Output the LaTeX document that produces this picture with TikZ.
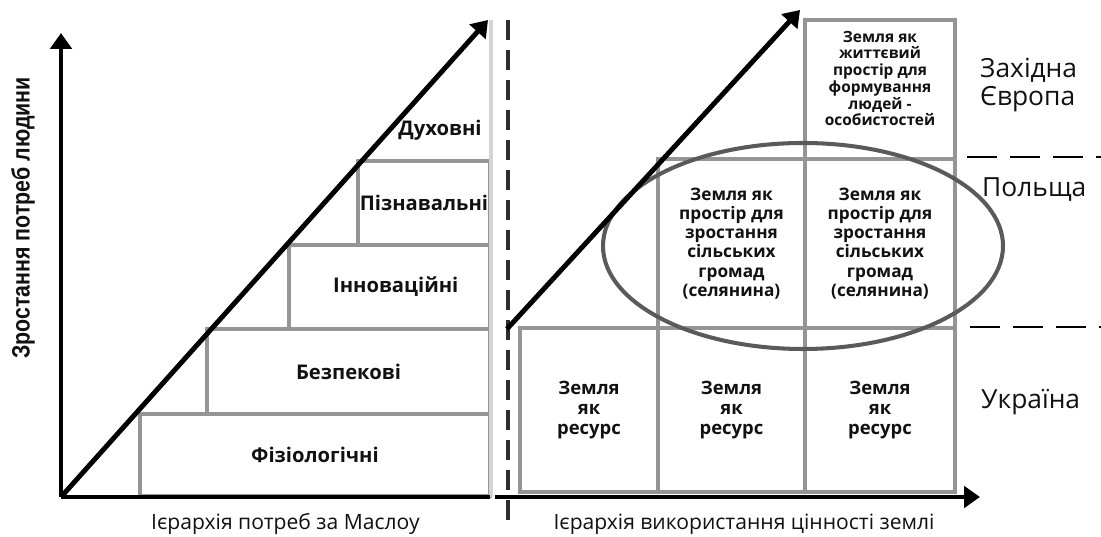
\documentclass[tikz,border=0pt]{standalone}
\usepackage{fontspec}
\setmainfont{Open Sans}
\newfontfamily\narrowfont[FakeStretch=0.85]{Liberation Sans}
\usetikzlibrary{arrows.meta,positioning,calc,shapes.geometric}
\definecolor{Ink}{HTML}{111111}
\definecolor{FrameGray}{HTML}{959595}
\definecolor{EdgeGray}{HTML}{D4D4D4}
\definecolor{RingGray}{HTML}{5A5A5A}
\definecolor{DashInk}{HTML}{2E2E2E}

\begin{document}
\begin{tikzpicture}[
  needbox/.style={draw=FrameGray,line width=2.1pt,inner sep=0pt,text=Ink,font=\bfseries\fontsize{11.5}{13}\selectfont},
  landbox/.style={draw=FrameGray,line width=2.1pt,inner sep=0pt,align=center,text=Ink,font=\bfseries\fontsize{9.8}{10.9}\selectfont},
  axisline/.style={line width=2.8pt,draw=black},
  bigtip/.style={-{Triangle[width=12pt,length=9pt]}},
  country/.style={anchor=west,align=left,text=Ink,font=\fontsize{15}{16.5}\selectfont}
]
  \useasboundingbox (0,0) rectangle (22.02,10.74);

  % left panel: Maslow steps
  \node[needbox,minimum width=7.00cm,minimum height=1.64cm] (phys) at (6.30,1.64) {Фізіологічні};
  \node[needbox,minimum width=5.66cm,minimum height=1.70cm] (safe) at (6.97,3.31) {Безпекові};
  \node[needbox,minimum width=4.02cm,minimum height=1.68cm] (innov) at (7.79,5.00) {\hspace{0.25cm}Інноваційні};
  \node[needbox,minimum width=2.64cm,minimum height=1.68cm] (cogn) at (8.48,6.68) {Пізнавальні};
  \node[text=Ink,font=\bfseries\fontsize{11.5}{13}\selectfont] (spirit) at (8.80,8.14) {Духовні};

  \coordinate (edgetop) at (9.82,10.34);
  \coordinate (edgebot) at (9.82,0.80);
  \draw[EdgeGray,line width=2.6pt] (edgetop) -- (edgebot);

  \coordinate (o1) at (1.22,0.80);
  \coordinate (ytop) at (1.22,10.08);
  \coordinate (x1end) at (9.80,0.80);
  \coordinate (d1top) at (9.76,10.34);
  \draw[axisline,bigtip] (o1) -- (ytop);
  \draw[axisline] (o1) -- (x1end);
  \draw[axisline,bigtip] (o1) -- (d1top);

  \node[rotate=90,text=Ink,font=\narrowfont\bfseries\fontsize{14.3}{16}\selectfont] (ylab) at (0.46,6.38) {Зростання потреб людини};
  \node[anchor=west,text=Ink,font=\fontsize{12}{14}\selectfont] (xlab1) at (2.90,0.26) {Ієрархія потреб за Маслоу};

  % separator
  \coordinate (septop) at (10.16,10.34);
  \coordinate (sepbot) at (10.16,0.34);
  \draw[DashInk,line width=2pt,dash pattern=on 0.40cm off 0.20cm] (septop) -- (sepbot);

  % right panel: land value grid
  \node[landbox,minimum width=3.00cm,minimum height=2.78cm] (west) at (17.60,8.95) {};
  \node[align=center,text=Ink,inner sep=0pt,font=\bfseries\fontsize{8.8}{9.5}\selectfont] (westtext) at (17.60,9.17) {Земля як\\життєвий\\простір для\\формування\\людей -\\особистостей};
  \node[landbox,minimum width=2.94cm,minimum height=3.38cm] (polA) at (14.63,5.87) {Земля як\\простір для\\зростання\\сільських\\громад\\(селянина)};
  \node[landbox,minimum width=3.00cm,minimum height=3.38cm] (polB) at (17.60,5.87) {Земля як\\простір для\\зростання\\сільських\\громад\\(селянина)};
  \foreach \x/\w/\n in {11.78/2.76/A,14.63/2.94/B,17.60/3.00/C}{
    \node[landbox,minimum width=\w cm,minimum height=3.28cm,font=\bfseries\fontsize{10.5}{11.4}\selectfont] (res\n) at (\x,2.54) {Земля\\як\\ресурс};
  }

  \node[draw=RingGray,line width=2.3pt,ellipse,minimum width=8.0cm,minimum height=4.12cm] (ring) at (16.06,5.82) {};

  \coordinate (o2) at (9.90,0.80);
  \coordinate (x2end) at (19.60,0.80);
  \coordinate (d2start) at (10.14,4.16);
  \coordinate (d2top) at (16.00,10.54);
  \draw[axisline,bigtip] (o2) -- (x2end);
  \draw[axisline,bigtip] (d2start) -- (d2top);

  \node[text=Ink,font=\fontsize{12}{14}\selectfont] (xlab2) at (14.88,0.26) {Ієрархія використання цінності землі};

  % countries
  \coordinate (cut1a) at (19.34,7.60);
  \coordinate (cut1b) at (22.02,7.60);
  \coordinate (cut2a) at (19.40,4.20);
  \coordinate (cut2b) at (22.02,4.20);
  \draw[black,line width=1.6pt,dash pattern=on 0.60cm off 0.26cm] (cut1a) -- (cut1b);
  \draw[black,line width=1.6pt,dash pattern=on 0.60cm off 0.26cm] (cut2a) -- (cut2b);
  \node[country] (we) at (19.48,9.04) {Західна\\Європа};
  \node[country] (pl) at (19.52,6.94) {Польща};
  \node[country] (ua) at (19.50,2.70) {Україна};
\end{tikzpicture}
\end{document}
